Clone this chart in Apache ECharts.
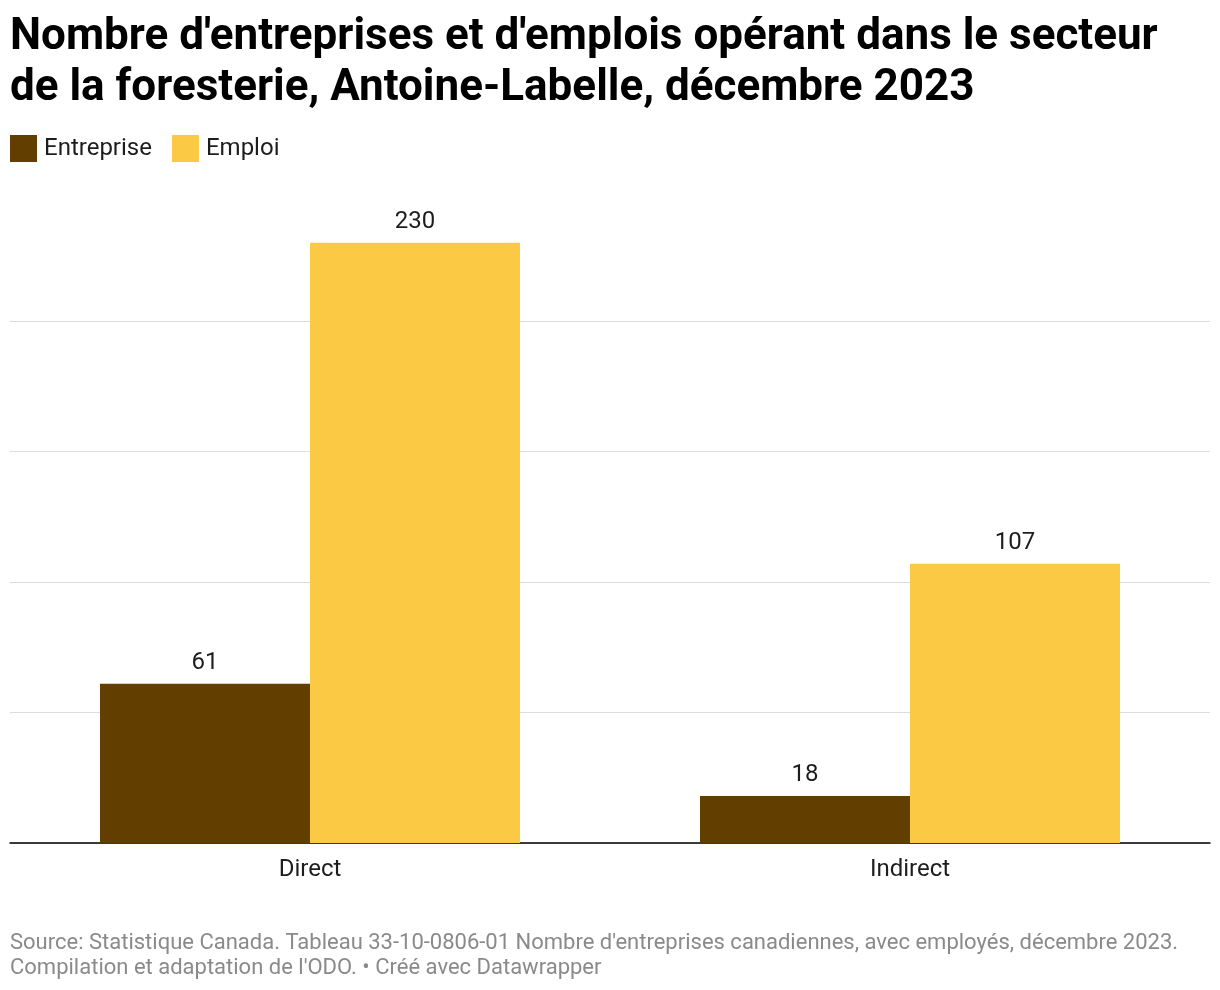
<!DOCTYPE html>
<html>
<head>
<meta charset="utf-8">
<script src="https://cdn.jsdelivr.net/npm/echarts@6/dist/echarts.min.js"></script>
<style>
  html, body { margin: 0; padding: 0; background: #fff; }
  #chart { width: 1220px; height: 990px; }
</style>
</head>
<body>
<div id="chart"></div>
<script>
const categories = ['Direct', 'Indirect'];
const seriesNames = ['Entreprise', 'Emploi'];
const entreprise = [61, 18];
const emploi = [230, 107];
const titleText = "Nombre d'entreprises et d'emplois opérant dans le secteur\nde la foresterie, Antoine-Labelle, décembre 2023";
const footerLines = [
  "Source: Statistique Canada. Tableau 33-10-0806-01 Nombre d'entreprises canadiennes, avec employés, décembre 2023.",
  "Compilation et adaptation de l'ODO. • Créé avec Datawrapper"
];

const FONT = 'Roboto, "Noto Sans", sans-serif';
const chart = echarts.init(document.getElementById('chart'), null, { renderer: 'canvas' });

const labelStyle = {
  show: true, position: 'top', distance: 9,
  fontFamily: FONT, fontSize: 24, color: '#1d1d1d'
};

chart.setOption({
  backgroundColor: '#ffffff',
  animation: false,
  title: {
    text: titleText,
    left: 10, top: 12, padding: 0,
    textStyle: { fontFamily: FONT, fontSize: 44, fontWeight: 'bold', color: '#000', lineHeight: 51 }
  },
  legend: {
    data: seriesNames,
    left: 10, top: 135, padding: 0,
    icon: 'rect', itemWidth: 27, itemHeight: 27, itemGap: 20,
    textStyle: { fontFamily: FONT, fontSize: 24, color: '#1d1d1d', padding: [0, 0, 0, 2] }
  },
  grid: { left: 10, right: 10, top: 190.5, bottom: 147, containLabel: false },
  xAxis: {
    type: 'category', data: categories,
    axisLine: { lineStyle: { color: '#000', width: 1.5 } },
    axisTick: { show: false },
    axisLabel: { fontFamily: FONT, fontSize: 24, color: '#1d1d1d', margin: 15 }
  },
  yAxis: {
    type: 'value', min: 0, max: 250, interval: 50,
    axisLine: { show: false }, axisTick: { show: false }, axisLabel: { show: false },
    splitLine: { lineStyle: { color: ['#dddddd', '#dddddd', '#dddddd', '#dddddd', '#dddddd', 'rgba(0,0,0,0)'], width: 1 } }
  },
  series: [
    { name: seriesNames[0], type: 'bar', data: entreprise, barWidth: 210, barGap: '0%',
      itemStyle: { color: '#623f00' }, label: labelStyle },
    { name: seriesNames[1], type: 'bar', data: emploi, barWidth: 210, barGap: '0%',
      itemStyle: { color: '#fbc943' }, label: labelStyle }
  ],
  graphic: [{
    type: 'text', left: 10, top: 931,
    style: { text: footerLines.join('\n'), fontFamily: FONT, fontSize: 22, lineHeight: 25, fill: '#8a8a8a' }
  }]
});
</script>
</body>
</html>
